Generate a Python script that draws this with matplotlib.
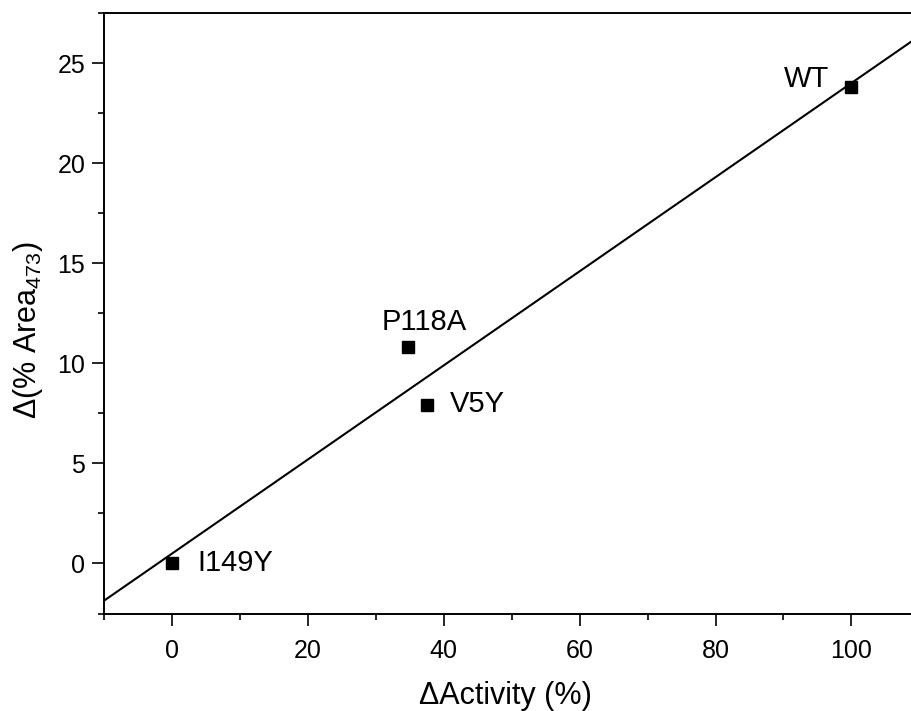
import numpy as np
import matplotlib
matplotlib.use("Agg")
import matplotlib.pyplot as plt

plt.rcParams['font.family'] = ['Liberation Sans', 'DejaVu Sans']
plt.rcParams['mathtext.fontset'] = 'custom'
plt.rcParams['mathtext.rm'] = 'Liberation Sans'
plt.rcParams['mathtext.it'] = 'Liberation Sans'
plt.rcParams['mathtext.default'] = 'regular'

# data
mutants = ['WT', 'P118A', 'V5Y', 'I149Y']
activity = [100.0, 34.8, 37.6, 0.0]
area_change = [23.8, 10.8, 7.9, 0.0]
# label offsets (points) for each mutant
label_offsets = [(-16, 6), (11, 18), (16, 1), (18, 0)]
label_ha = ['right', 'center', 'left', 'left']

x = np.array(activity)
y = np.array(area_change)
slope, intercept = np.polyfit(x, y, 1)

fig = plt.figure(figsize=(9.11, 7.11), dpi=100)
ax = fig.add_axes([0.1142, 0.1371, 0.895, 0.8446])

xfit = np.array([-10, 110])
ax.plot(xfit, slope * xfit + intercept, color='black', lw=1.5)
ax.plot(x, y, 's', color='black', markersize=9)

for name, xi, yi, off, ha in zip(mutants, x, y, label_offsets, label_ha):
    ax.annotate(name, (xi, yi), xytext=off, textcoords='offset points',
                ha=ha, va='center', fontsize=21)

ax.set_xlim(-10, 110)
ax.set_ylim(-2.5, 27.5)
ax.set_xticks(np.arange(0, 101, 20))
ax.set_xticks(np.arange(-10, 111, 10), minor=True)
ax.set_yticks(np.arange(0, 26, 5))
ax.set_yticks(np.arange(-2.5, 27.6, 2.5), minor=True)

for s in ax.spines.values():
    s.set_linewidth(1.4)
ax.tick_params(which='both', direction='out', width=1.2, labelsize=18,
               top=False, right=False)
ax.tick_params(which='major', length=8.5)
ax.tick_params(which='minor', length=4.5)
ax.tick_params(axis='x', pad=10)
ax.tick_params(axis='y', pad=5)

ax.set_xlabel('\u0394Activity (%)', fontsize=22)
ax.set_ylabel('\u0394(% Area$_{\\mathrm{473}}$)', fontsize=22)
ax.xaxis.set_label_coords(0.492, -0.112)
ax.yaxis.set_label_coords(-0.072, 0.472)

fig.savefig('out.png', dpi=100)
